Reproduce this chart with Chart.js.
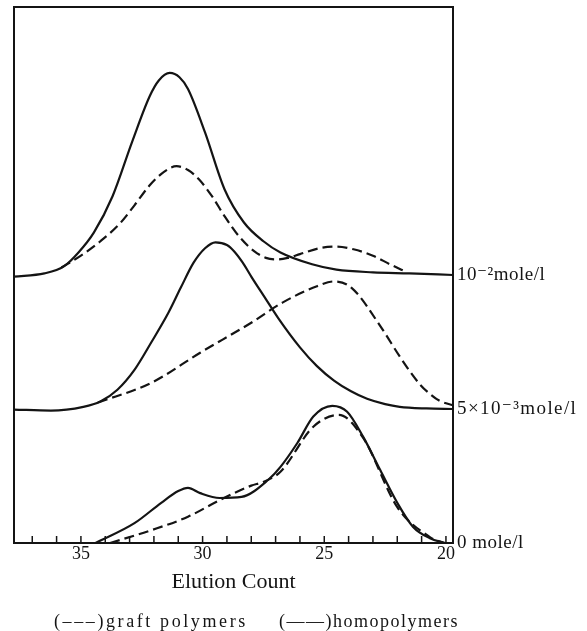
<!DOCTYPE html>
<html>
<head>
<meta charset="utf-8">
<script src="https://cdn.jsdelivr.net/npm/chart.js@4.4.1/dist/chart.umd.min.js"></script>
<style>
  html, body { margin: 0; padding: 0; background: #fff; }
  #wrap { width: 587px; height: 631px; }
</style>
</head>
<body>
<div id="wrap"><canvas id="gpc"></canvas></div>
<script>
// concentration levels, each curve pair sits on its own baseline
const levels = ['0 mole/l', '5\u00d710\u207b\u00b3mole/l', '10\u207b\u00b2mole/l'];
const baselines = [0, 25, 50];
const xTicks = [20, 25, 30, 35];

// 10^-2 mole/l
const homoTopX = [37.75, 36.5, 35.7, 35.1, 34.47, 33.7, 32.9, 32.17, 31.8, 31.35, 30.95, 30.6, 29.9, 29.1, 28.3, 27.5, 26.8, 25.5, 24.5, 23.0, 21.5, 19.71];
const homoTopY = [49.7, 50.3, 51.6, 54.2, 57.9, 64.7, 74.8, 83.4, 86.3, 87.7, 86.9, 84.7, 76.6, 66, 59.8, 56.3, 54.2, 52.0, 51.0, 50.5, 50.3, 50];
const graftTopX = [35.8, 35.0, 34.2, 33.4, 32.8, 32.2, 31.6, 31.07, 30.6, 30.16, 29.6, 29.1, 28.5, 27.87, 27.4, 26.97, 26.5, 26.0, 25.2, 24.5, 23.8, 23.0, 22.3, 21.6];
const graftTopY = [51.4, 53.6, 56.3, 59.6, 63.0, 66.6, 69.2, 70.3, 69.6, 67.9, 64.6, 61, 57.2, 54.4, 53.2, 52.9, 53.2, 53.9, 55.0, 55.3, 54.8, 53.6, 52.0, 50.5];

// 5x10^-3 mole/l
const homoMidX = [37.75, 36.23, 34.9, 34.2, 33.5, 32.8, 32.1, 31.4, 30.9, 30.37, 29.9, 29.47, 29.0, 28.7, 28.35, 28.0, 27.4, 26.9, 26.0, 25.3, 24.6, 23.9, 23.24, 22.5, 21.9, 20.8, 19.71];
const homoMidY = [24.9, 24.7, 25.4, 26.4, 28.6, 32.3, 37.5, 43, 47.6, 52.3, 55.0, 56.1, 55.6, 54.4, 52.3, 49.7, 45.5, 42.0, 36.5, 33.0, 30.3, 28.3, 26.9, 25.9, 25.4, 25.1, 25];
const graftMidX = [34.3, 32.1, 30.1, 28.0, 26.7, 25.3, 24.6, 23.9, 22.6, 21.9, 21.07, 20.6, 20.25, 19.71];
const graftMidY = [26.2, 29.9, 35.5, 41.1, 44.9, 47.9, 48.8, 47.7, 39.8, 34.8, 29.6, 27.6, 26.5, 25.7];

// 0 mole/l
const homoBotX = [34.4, 32.8, 31.7, 31.0, 30.6, 30.1, 29.3, 28.4, 27.3, 26.8, 26.1, 25.45, 24.67, 24.06, 23.4, 22.7, 22.0, 21.35, 20.66, 20.04];
const homoBotY = [0, 3.7, 7.5, 9.7, 10.3, 9.3, 8.4, 8.6, 11.8, 14.2, 18.7, 23.6, 25.6, 24.5, 19.8, 13.6, 7.5, 3.0, 0.9, 0];
const graftBotX = [33.8, 32.1, 30.6, 29.3, 28.0, 27.5, 26.8, 25.45, 24.4, 23.4, 22.0, 20.66, 20.1];
const graftBotY = [0, 2.4, 4.9, 8, 10.7, 11.4, 13.3, 21.7, 23.9, 19.6, 6.7, 1.1, 0];

const SERIF = '"Liberation Serif", "DejaVu Serif", serif';
const INK = '#141414';

function pts(xs, ys) {
    return xs.map((x, i) => ({ x: x, y: ys[i] }));
}

function curve(label, xs, ys, dashed) {
    return {
        label: label,
        data: pts(xs, ys),
        borderColor: INK,
        borderWidth: 2.2,
        borderDash: dashed ? [10, 5] : [],
        pointRadius: 0,
        fill: false,
        cubicInterpolationMode: 'monotone'
    };
}

// frame, inward ticks, level labels and legend line
const decor = {
    id: 'decor',
    afterDraw(chart) {
        const { ctx, chartArea: a, scales } = chart;
        const x = scales.x, y = scales.y;
        ctx.save();
        ctx.strokeStyle = INK;
        ctx.lineWidth = 2;
        ctx.strokeRect(a.left, a.top, a.right - a.left, a.bottom - a.top);

        ctx.lineWidth = 1.5;
        for (let v = 20; v <= 37; v++) {
            const px = x.getPixelForValue(v);
            ctx.beginPath();
            ctx.moveTo(px, a.bottom);
            ctx.lineTo(px, a.bottom - 7);
            ctx.stroke();
        }

        ctx.fillStyle = INK;
        ctx.font = '19px ' + SERIF;
        ctx.textAlign = 'left';
        ctx.textBaseline = 'middle';
        levels.forEach((t, i) => {
            ctx.letterSpacing = i === 1 ? '1.4px' : '0.5px';
            ctx.fillText(t, a.right + 4, y.getPixelForValue(baselines[i]));
        });

        ctx.font = '18px ' + SERIF;
        ctx.letterSpacing = '2.6px';
        ctx.fillText('(\u2012\u2012\u2012)graft polymers', 54, 622);
        ctx.letterSpacing = '1.5px';
        ctx.fillText('(\u2014\u2014)homopolymers', 279, 622);
        ctx.restore();
    }
};

new Chart(document.getElementById('gpc'), {
    type: 'line',
    data: {
        datasets: [
            curve('homopolymers 10-2', homoTopX, homoTopY, false),
            curve('graft polymers 10-2', graftTopX, graftTopY, true),
            curve('homopolymers 5x10-3', homoMidX, homoMidY, false),
            curve('graft polymers 5x10-3', graftMidX, graftMidY, true),
            curve('homopolymers 0', homoBotX, homoBotY, false),
            curve('graft polymers 0', graftBotX, graftBotY, true)
        ]
    },
    options: {
        responsive: true,
        maintainAspectRatio: false,
        animation: false,
        layout: { padding: { left: 14, right: 134, top: 7, bottom: 32 } },
        plugins: {
            legend: { display: false },
            tooltip: { enabled: false }
        },
        scales: {
            x: {
                type: 'linear',
                reverse: true,
                min: 19.71,
                max: 37.75,
                afterBuildTicks: (s) => { s.ticks = xTicks.map(v => ({ value: v })); },
                grid: { display: false, drawTicks: false },
                border: { display: false },
                ticks: {
                    padding: 0,
                    color: INK,
                    font: { family: SERIF, size: 18 },
                    maxRotation: 0
                },
                title: {
                    display: true,
                    text: 'Elution Count',
                    color: INK,
                    font: { family: SERIF, size: 22 }
                }
            },
            y: {
                type: 'linear',
                display: false,
                min: 0,
                max: 100
            }
        }
    },
    plugins: [decor]
});
</script>
</body>
</html>
